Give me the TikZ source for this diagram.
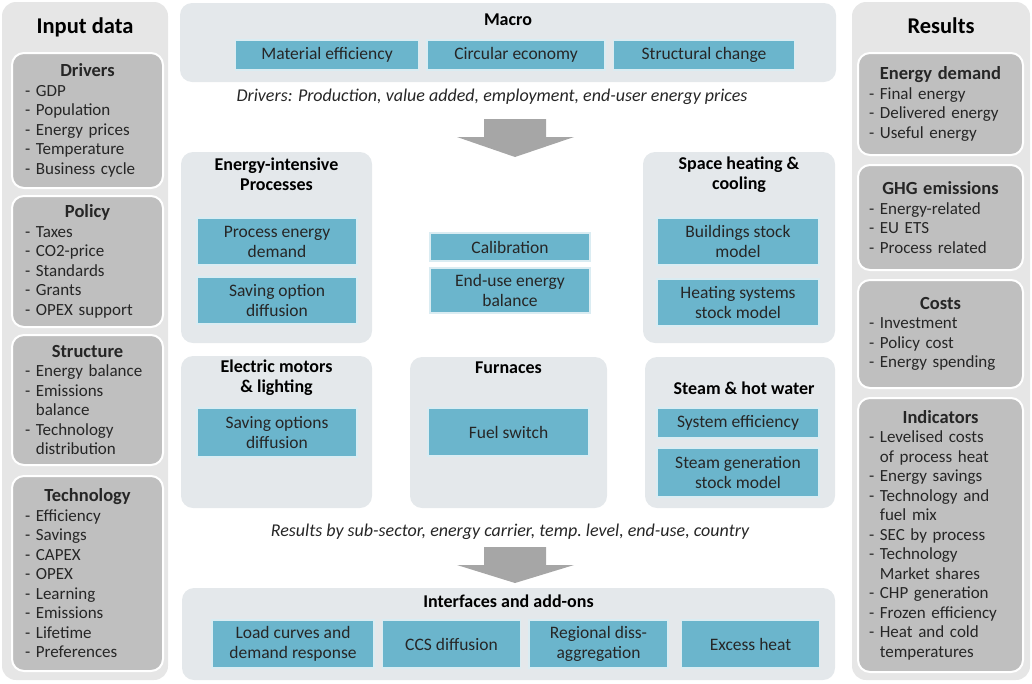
\documentclass[tikz,border=0pt]{standalone}
\usepackage{fontspec}
\setmainfont{Carlito}
\usetikzlibrary{positioning}

\definecolor{sidegray}{HTML}{E6E6E6}
\definecolor{listgray}{HTML}{BFBFBF}
\definecolor{panelgray}{HTML}{E4E8EB}
\definecolor{boxblue}{HTML}{6BB5CC}
\definecolor{arrowgray}{HTML}{A6A6A6}
\definecolor{textdark}{HTML}{262626}

\newcommand{\boxhead}[1]{{\fontsize{18.5}{19.5}\selectfont\bfseries\hfill#1\hfill\null}\\}
\newcommand{\cont}{\phantom{-}\ }

\begin{document}
\begin{tikzpicture}[x=1pt, y=-1pt, node distance=7pt,
    outer/.style={fill=sidegray, rounded corners=14pt, inner sep=0pt},
    listbox/.style={fill=listgray, draw=white, line width=2pt, rounded corners=12pt,
        align=left, text=textdark, inner xsep=11pt, inner ysep=0pt,
        font=\fontsize{17}{19.5}\selectfont},
    panel/.style={fill=panelgray, rounded corners=12pt, inner sep=0pt},
    bluebox/.style={fill=boxblue, draw=white!75!boxblue, line width=1.5pt, align=center,
        text=textdark, inner sep=2pt, font=\fontsize{17.5}{20}\selectfont},
    paneltitle/.style={font=\bfseries\fontsize{18}{20}\selectfont, align=center, inner sep=0pt},
    sidetitle/.style={font=\bfseries\fontsize{22.5}{24}\selectfont, inner sep=0pt},
    note/.style={font=\itshape\fontsize{18}{20}\selectfont, text=textdark, inner sep=0pt},
    bigarrow/.style={fill=arrowgray}]
    \useasboundingbox (0,0) rectangle (1032,683);

    % input data column
    \node[outer, minimum width=166pt, minimum height=678pt] (inputs) at (85,341) {};
    \node[sidetitle, below=16pt of inputs.north] (inputshead) {Input data};
    \node[listbox, inner xsep=13pt, minimum height=135pt, text width=125pt] (drivers) at (87.5,120.5)
        {\boxhead{Drivers}- GDP\\- Population\\- Energy prices\\- Temperature\\- Business cycle};
    \node[listbox, inner xsep=13pt, minimum height=131pt, text width=125pt] (policy) at (87.5,261.5)
        {\boxhead{Policy}- Taxes\\- CO2-price\\- Standards\\- Grants\\- OPEX support};
    \node[listbox, inner xsep=13pt, minimum height=130pt, text width=125pt] (structure) at (87.5,400)
        {\boxhead{Structure}- Energy balance\\- Emissions\\\cont balance\\- Technology\\\cont distribution};
    \node[listbox, inner xsep=13pt, minimum height=195pt, text width=125pt] (technology) at (87.5,573.5)
        {\boxhead{Technology}- Efficiency\\- Savings\\- CAPEX\\- OPEX\\- Learning\\- Emissions\\- Lifetime\\- Preferences};

    % results column
    \node[outer, minimum width=178pt, minimum height=678pt] (results) at (941,341) {};
    \node[sidetitle, below=16pt of results.north] (resultshead) {Results};
    \node[listbox, minimum height=102pt, text width=143pt] (demand) at (940.5,104)
        {\boxhead{Energy demand}- Final energy\\- Delivered energy\\- Useful energy};
    \node[listbox, minimum height=105pt, text width=143pt] (ghg) at (940.5,217.5)
        {\boxhead{GHG emissions}- Energy-related\\- EU ETS\\- Process related};
    \node[listbox, minimum height=108pt, text width=143pt] (costs) at (940.5,334)
        {\boxhead{Costs}- Investment\\- Policy cost\\- Energy spending};
    \node[listbox, minimum height=274pt, text width=143pt] (indicators) at (940.5,535)
        {\boxhead{Indicators}- Levelised costs\\\cont of process heat\\- Energy savings\\- Technology and\\\cont fuel mix\\- SEC by process\\- Technology\\\cont Market shares\\- CHP generation\\- Frozen efficiency\\- Heat and cold\\\cont temperatures};

    % macro
    \node[panel, minimum width=656pt, minimum height=79pt] (macro) at (508,42.5) {};
    \node[paneltitle, below=11pt of macro.north] (macrohead) {Macro};
    \node[bluebox, minimum width=178pt, minimum height=30pt] (circular) at (516,55) {Circular economy};
    \node[bluebox, minimum width=183pt, minimum height=30pt, left=of circular] (material) {Material efficiency};
    \node[bluebox, minimum width=181pt, minimum height=30pt, right=of circular] (structural) {Structural change};
    \node[note] (drivnote) at (492,97) {Drivers: Production, value added, employment, end-user energy prices};

    \fill[bigarrow] (484,119) -- (546,119) -- (546,137) -- (574,137) -- (515,157)
        -- (457,137) -- (484,137) -- cycle;

    % sector modules
    \node[panel, minimum width=191pt, minimum height=191pt] (eip) at (276.5,247.5) {};
    \node[paneltitle, below=6pt of eip.north] (eiphead) {Energy-intensive\\Processes};
    \node[bluebox, minimum width=160pt, minimum height=47pt] (procdemand) at (277,241.5) {Process energy\\demand};
    \node[bluebox, minimum width=160pt, minimum height=47pt] (procsaving) at (277,300.5) {Saving option\\diffusion};

    \node[bluebox, minimum width=160pt, minimum height=28pt] (calib) at (510,247) {Calibration};
    \node[bluebox, minimum width=160pt, minimum height=45pt] (balance) at (510,290.5) {End-use energy\\balance};

    \node[panel, minimum width=192pt, minimum height=191pt] (shc) at (739,247.5) {};
    \node[paneltitle, below=5pt of shc.north] (shchead) {Space heating \&\\cooling};
    \node[bluebox, minimum width=162pt, minimum height=47pt] (buildings) at (738,241.5) {Buildings stock\\model};
    \node[bluebox, minimum width=162pt, minimum height=47pt] (heatsys) at (738,302.5) {Heating systems\\stock model};

    \node[panel, minimum width=191pt, minimum height=152pt] (eml) at (276.5,432) {};
    \node[paneltitle, below=4pt of eml.north] (emlhead) {Electric motors\\\& lighting};
    \node[bluebox, minimum width=160pt, minimum height=49pt] (emlsaving) at (277,432.5) {Saving options\\diffusion};

    \node[panel, minimum width=197pt, minimum height=151pt] (furnaces) at (508.5,432.5) {};
    \node[paneltitle, below=5pt of furnaces.north] (furnhead) {Furnaces};
    \node[bluebox, minimum width=161pt, minimum height=48pt] (fuelswitch) at (508.5,432) {Fuel switch};

    \node[panel, minimum width=190pt, minimum height=151pt] (steam) at (740,432.5) {};
    \node[paneltitle, below=25pt of steam.north, xshift=4pt] (steamhead) {Steam \& hot water};
    \node[bluebox, minimum width=162pt, minimum height=30pt] (syseff) at (738,423) {System efficiency};
    \node[bluebox, minimum width=162pt, minimum height=49pt] (steamgen) at (738,472.5) {Steam generation\\stock model};

    \node[note] (resnote) at (510,532) {Results by sub-sector, energy carrier, temp.\ level, end-use, country};

    \fill[bigarrow] (484,547) -- (546,547) -- (546,565) -- (574,565) -- (515,583)
        -- (457,565) -- (484,565) -- cycle;

    % interfaces
    \node[panel, minimum width=653pt, minimum height=92pt] (interfaces) at (508.5,634) {};
    \node[paneltitle, below=7pt of interfaces.north] (interhead) {Interfaces and add-ons};
    \node[bluebox, minimum width=162pt, minimum height=48pt] (loadcurves) at (293,644) {Load curves and\\demand response};
    \node[bluebox, minimum width=138pt, minimum height=48pt, right=of loadcurves] (ccs) {CCS diffusion};
    \node[bluebox, minimum width=139pt, minimum height=48pt, right=of ccs] (regional) {Regional diss-\\aggregation};
    \node[bluebox, minimum width=138pt, minimum height=48pt, right=12pt of regional] (excess) {Excess heat};
\end{tikzpicture}
\end{document}
